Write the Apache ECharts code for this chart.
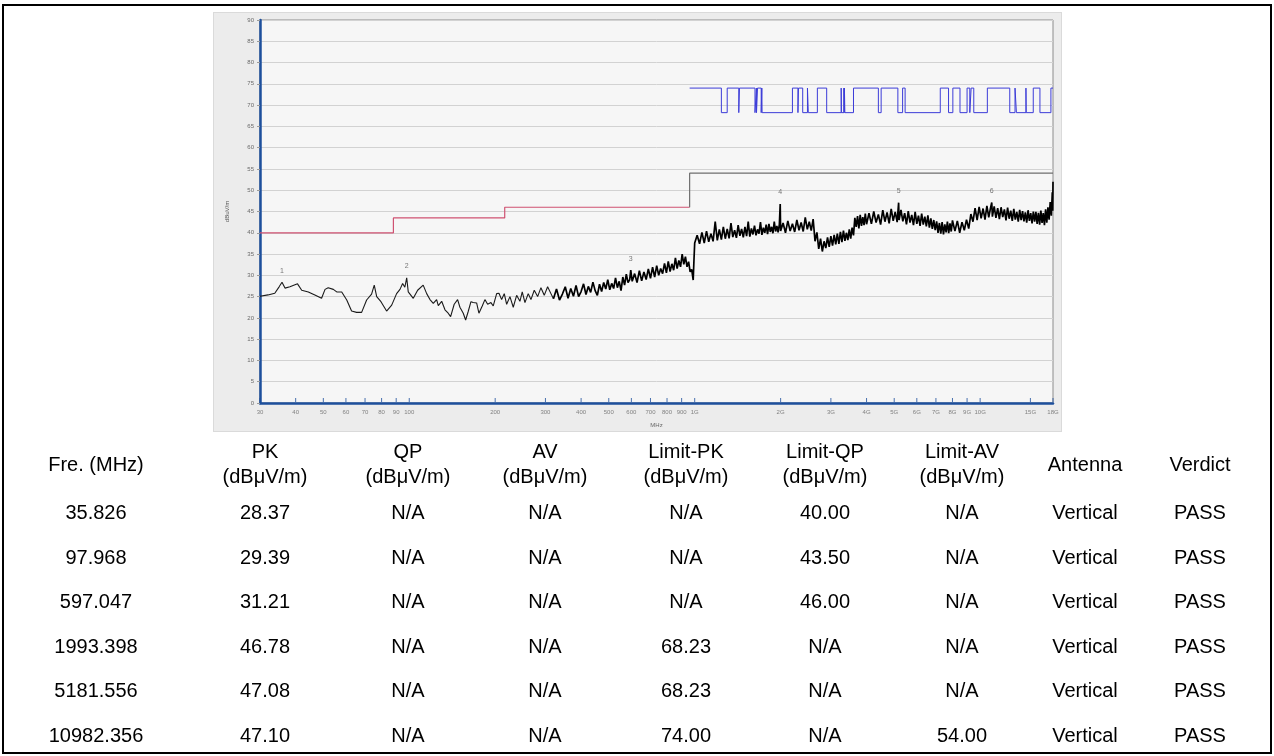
<!DOCTYPE html>
<html><head><meta charset="utf-8">
<script src="https://cdn.jsdelivr.net/npm/echarts@6/dist/echarts.min.js"></script>
<style>
html,body{margin:0;padding:0;background:#fff;}
#page{position:relative;width:1274px;height:756px;overflow:hidden;font-family:"Liberation Sans",Arial,sans-serif;}
#frame{position:absolute;left:2px;top:4px;width:1270px;height:750px;box-sizing:border-box;border:2px solid #000;}
#panel{position:absolute;left:213px;top:12px;width:849px;height:420px;background:#ececec;border:1px solid #dadada;box-sizing:border-box;}
#c{position:absolute;left:0;top:0;width:1274px;height:756px;}
.cell{position:absolute;transform:translate(-50%,-50%);font-size:20px;color:#000;white-space:nowrap;text-align:center;line-height:25px;}
</style>
</head><body>
<div id="page"><div id="frame"></div><div id="panel"></div><div id="c"></div></div>
<script>
// ---------- measured trace (MHz, dBuV/m) ----------
const trace30to320 = [[30,25.1],[32,25.4],[33.8,25.8],[35,27.3],[35.826,28.37],[36.7,27.0],[38.2,27.3],[40.6,28.0],[42,26.5],[44.3,26.1],[46.7,25.4],[49.3,24.6],[50.7,26.7],[52,27.1],[54.2,26.7],[55.7,26.1],[58,26.1],[60.4,24.2],[62.8,21.6],[65.4,21.3],[68.1,21.3],[70.9,24.2],[73.8,25.6],[75.4,27.7],[76.9,25.0],[79.6,23.8],[83.3,21.6],[86.8,23.0],[90.3,25.7],[92.8,26.7],[94.8,28.1],[96.5,27.2],[97.968,29.39],[99.2,26.1],[103.3,24.6],[107,26.5],[111.9,27.7],[115.1,25.7],[118.2,24.3],[121.4,23.4],[124.7,24.3],[126.4,22.9],[129.9,23.9],[133.4,21.9],[136.9,21.1],[139.6,20.3],[143.7,23.2],[147.7,24.3],[150.5,22.5],[154.6,21.1],[157.6,19.5],[160.9,21.5],[164.5,23.8],[167.5,23.6],[172.2,23.5],[175.4,21.1],[180.2,22.8],[184.1,24.3],[188.2,23.2],[193.3,23.6],[196.9,22.8],[202.4,25.7],[206.2,25.8],[210.7,24.3],[215.2,25.7],[219.4,23.2],[225.3,25.0],[231.4,22.5],[237.8,25.3],[244.2,23.9],[248.8,26.1],[254.3,23.6],[261.1,25.7],[266.9,24.3],[274.1,26.5],[281.7,25.0],[289.3,27.1],[297.1,25.3],[305.3,27.3],[313.6,25.7],[320,24.5]];
const trace320to1G = [[320,24.5],[328,26.8],[336,24.2],[344,25.6],[352,27.3],[360,24.6],[368,26.9],[376,25.1],[384,27.6],[392,25.0],[400,26.2],[408,28.0],[416,25.5],[424,27.4],[432,26.0],[440,28.4],[448,26.4],[456,25.3],[464,27.9],[472,26.2],[480,28.3],[488,26.8],[496,29.0],[504,26.6],[512,28.1],[520,26.9],[528,29.4],[536,27.1],[544,28.6],[552,26.4],[560,29.6],[568,27.7],[576,30.3],[584,28.3],[592,29.0],[597.047,31.21],[604,28.6],[616,30.4],[628,28.3],[640,31.1],[652,28.7],[664,30.8],[676,29.0],[688,31.5],[700,29.3],[712,31.9],[724,29.6],[736,32.3],[748,30.0],[760,31.6],[772,30.4],[784,32.8],[796,30.6],[808,33.3],[820,30.9],[832,32.7],[844,31.2],[856,34.1],[868,31.6],[880,33.5],[892,32.0],[904,35.0],[916,32.6],[928,34.4],[940,32.0],[952,33.2],[964,30.8],[976,31.4],[988,28.9],[994,33.5]];
const trace1Gto4G = [[1000,37.6],[1020,39.4],[1040,37.4],[1060,40.1],[1080,37.6],[1100,40.4],[1120,37.9],[1140,39.8],[1160,38.0],[1180,42.6],[1200,38.2],[1220,40.8],[1240,38.4],[1260,41.4],[1280,38.6],[1300,40.9],[1320,38.7],[1340,42.3],[1360,39.0],[1380,40.6],[1400,38.8],[1420,41.8],[1440,39.3],[1460,40.9],[1480,38.9],[1500,41.4],[1520,39.2],[1540,42.6],[1560,39.1],[1580,41.0],[1600,39.6],[1620,41.7],[1640,39.4],[1660,40.8],[1680,39.8],[1700,42.5],[1720,39.5],[1740,41.2],[1760,40.0],[1780,41.9],[1800,39.7],[1820,42.1],[1840,40.2],[1860,41.4],[1880,39.9],[1900,42.6],[1920,40.3],[1940,41.6],[1960,40.1],[1980,42.0],[1993.398,46.78],[2000,40.4],[2040,42.3],[2080,40.0],[2120,42.8],[2160,40.4],[2200,42.1],[2240,40.2],[2280,43.0],[2320,40.6],[2360,42.4],[2400,40.3],[2440,43.6],[2480,40.8],[2520,42.6],[2560,40.5],[2600,43.2],[2640,38.0],[2680,40.1],[2720,36.2],[2760,38.6],[2800,35.6],[2840,38.0],[2880,36.4],[2920,38.9],[2960,36.7],[3000,39.2],[3040,37.0],[3080,39.5],[3120,37.3],[3160,39.8],[3200,37.4],[3240,40.2],[3280,37.8],[3320,40.5],[3360,38.1],[3400,40.0],[3440,38.3],[3480,40.8],[3520,38.6],[3560,41.2],[3600,39.4],[3640,43.5],[3680,41.4],[3720,43.9],[3760,41.0],[3800,44.2],[3840,41.6],[3880,43.7],[3920,41.8],[3960,44.5]];
const trace4Gto18G = [[4000,42.0],[4080,44.6],[4160,42.1],[4240,45.0],[4320,42.4],[4400,44.3],[4480,41.9],[4560,45.3],[4640,42.6],[4720,44.8],[4800,42.2],[4880,45.6],[4960,42.8],[5040,44.9],[5120,42.5],[5181.556,47.08],[5200,43.0],[5280,45.4],[5360,42.7],[5440,44.6],[5520,42.0],[5600,45.1],[5680,42.4],[5760,44.2],[5840,41.8],[5920,44.9],[6000,42.1],[6080,44.0],[6160,41.6],[6240,44.5],[6320,41.9],[6400,43.8],[6480,41.5],[6560,44.1],[6640,41.2],[6720,43.4],[6800,40.9],[6880,43.0],[6960,40.6],[7040,42.7],[7120,40.0],[7200,42.3],[7280,39.8],[7360,42.5],[7440,39.6],[7520,42.0],[7600,40.1],[7680,42.6],[7760,39.9],[7840,42.2],[7920,40.3],[8000,42.9],[8160,40.4],[8320,42.8],[8480,40.0],[8640,42.5],[8800,40.6],[8960,43.1],[9120,41.0],[9280,44.4],[9440,42.6],[9600,45.8],[9760,43.0],[9920,46.1],[10080,43.4],[10240,45.7],[10400,43.1],[10560,46.3],[10720,43.6],[10880,45.9],[10982.356,47.10],[11040,43.8],[11200,46.2],[11360,43.5],[11520,45.8],[11680,43.2],[11840,46.0],[12000,43.7],[12160,45.5],[12320,42.9],[12480,45.9],[12640,43.3],[12800,45.2],[12960,42.8],[13120,45.6],[13280,43.1],[13440,44.9],[13600,42.6],[13760,45.4],[13920,43.0],[14080,45.1],[14240,42.7],[14400,44.8],[14560,42.4],[14720,45.3],[14880,42.8],[15040,44.6],[15200,42.2],[15360,45.0],[15520,42.6],[15680,44.9],[15840,42.1],[16000,44.7],[16160,41.9],[16320,45.2],[16480,42.3],[16640,44.6],[16800,41.8],[16960,45.5],[17120,42.4],[17280,46.0],[17440,43.1],[17600,47.2],[17760,44.0],[17900,49.5],[17960,45.2],[18000,52.0]];

// ---------- limit lines ----------
const qpLimitFreq = [30, 88, 216, 960];
const qpLimitVal  = [40, 43.5, 46, 46];
const avLimitFreq = [960, 18000];
const avLimitVal  = [46, 54];
const pkLimitFreq = [960,1240,1300,1427,1435,1626.5,1645.5,1646.5,1660,1710,1718.8,1722.2,2200,2300,2310,2390,2483.5,2500,2690,2900,3260,3267,3332,3339,3345.8,3358,3600,4400,4500,5150,5350,5460,7250,7750,8025,8500,9000,9200,9300,9500,10600,12700,13250,13400,14470,14500,15350,16200,17700,18000];
const pkLimitVal  = [74,68.23,74,68.23,74,68.23,74,68.23,74,68.23,74,68.23,74,68.23,74,68.23,74,68.23,74,68.23,74,68.23,74,68.23,74,68.23,74,68.23,74,68.23,74,68.23,74,68.23,74,68.23,74,68.23,74,68.23,74,68.23,74,68.23,74,68.23,74,68.23,74,74];

// ---------- axis ticks ----------
const xTickValues = [30,40,50,60,70,80,90,100,200,300,400,500,600,700,800,900,1000,2000,3000,4000,5000,6000,7000,8000,9000,10000,15000,18000];
const xTickLabels = ['30','40','50','60','70','80','90','100','200','300','400','500','600','700','800','900','1G','2G','3G','4G','5G','6G','7G','8G','9G','10G','15G','18G'];

// ---------- result table ----------
const tableHeaders = [['Fre. (MHz)'],['PK','(dBμV/m)'],['QP','(dBμV/m)'],['AV','(dBμV/m)'],['Limit-PK','(dBμV/m)'],['Limit-QP','(dBμV/m)'],['Limit-AV','(dBμV/m)'],['Antenna'],['Verdict']];
const peakFreq = [35.826, 97.968, 597.047, 1993.398, 5181.556, 10982.356];
const peakPK   = [28.37, 29.39, 31.21, 46.78, 47.08, 47.10];
const peakQP   = [null, null, null, null, null, null];
const peakAV   = [null, null, null, null, null, null];
const limitPK  = [null, null, null, 68.23, 68.23, 74.00];
const limitQP  = [40.00, 43.50, 46.00, null, null, null];
const limitAV  = [null, null, null, null, null, 54.00];
const antenna  = ['Vertical','Vertical','Vertical','Vertical','Vertical','Vertical'];
const verdict  = ['PASS','PASS','PASS','PASS','PASS','PASS'];

// ---------- build table (HTML text) ----------
const colX = [96, 265, 408, 545, 686, 825, 962, 1085, 1200];
const page = document.getElementById('page');
function addCell(text, x, y){
  const d = document.createElement('div');
  d.className = 'cell';
  d.style.left = x + 'px'; d.style.top = y + 'px';
  d.innerHTML = text;
  page.appendChild(d);
}
tableHeaders.forEach((h, i) => addCell(h.join('<br>'), colX[i], 464));
const fmt2 = v => v == null ? 'N/A' : v.toFixed(2);
const rowY0 = 512, rowStep = 44.6;
peakFreq.forEach((f, r) => {
  const y = rowY0 + r * rowStep;
  const vals = [f.toFixed(3), fmt2(peakPK[r]), fmt2(peakQP[r]), fmt2(peakAV[r]), fmt2(limitPK[r]), fmt2(limitQP[r]), fmt2(limitAV[r]), antenna[r], verdict[r]];
  vals.forEach((v, i) => addCell(v, colX[i], y));
});

// ---------- chart ----------
const chart = echarts.init(document.getElementById('c'), null, {renderer: 'canvas'});
const zip = (a, b) => a.map((v, i) => [v, b[i]]);
const axisBlue = '#1d4f9c';
chart.setOption({
  animation: false,
  grid: {left: 260, top: 20, width: 793, height: 383, show: true, backgroundColor: '#f6f6f6', borderColor: '#8c8c8c', borderWidth: 1},
  xAxis: {
    type: 'log', logBase: 10, min: 30, max: 18000,
    name: 'MHz', nameLocation: 'middle', nameGap: 19,
    nameTextStyle: {fontSize: 6, color: '#666'},
    axisLine: {show: true, lineStyle: {color: axisBlue, width: 2.5}},
    axisTick: {show: false}, axisLabel: {show: false}, splitLine: {show: false}, minorTick: {show: false}
  },
  yAxis: {
    type: 'value', min: 0, max: 90, interval: 5,
    name: 'dBuV/m', nameLocation: 'middle', nameGap: 30, nameRotate: 90,
    nameTextStyle: {fontSize: 6, color: '#555'},
    axisLine: {show: true, lineStyle: {color: axisBlue, width: 2.5}},
    axisTick: {show: true, length: 3, lineStyle: {color: '#9a9a9a'}},
    axisLabel: {fontSize: 6, color: '#6a6a6a', margin: 6},
    splitLine: {lineStyle: {color: '#d2d2d2', width: 1}}
  },
  series: [
    {name: 'QP Limit', type: 'line', step: 'end', data: zip(qpLimitFreq, qpLimitVal), showSymbol: false, lineStyle: {color: '#cf5272', width: 1.2}, z: 3},
    {name: 'AV Limit', type: 'line', step: 'start', data: zip(avLimitFreq, avLimitVal), showSymbol: false, lineStyle: {color: '#6e6e6e', width: 1.2}, z: 3},
    {name: 'PK Limit', type: 'line', step: 'end', data: zip(pkLimitFreq, pkLimitVal), showSymbol: false, lineStyle: {color: '#3c3cd8', width: 1}, z: 3},
    {name: 'Trace low', type: 'line', data: trace30to320, showSymbol: false, lineStyle: {color: '#1a1a1a', width: 1.1}, z: 4},
    {name: 'Trace high', type: 'line', data: trace320to1G.concat(trace1Gto4G, trace4Gto18G), showSymbol: false, lineStyle: {color: '#000', width: 1.7}, z: 4},
    {name: 'Peaks', type: 'scatter', data: zip(peakFreq, peakPK), symbolSize: 2, itemStyle: {color: 'rgba(0,0,0,0)'},
      label: {show: true, position: 'top', distance: 7, fontSize: 7, color: '#555', formatter: p => String(p.dataIndex + 1)}, z: 5},
    {name: 'xTicks', type: 'scatter', clip: false, data: xTickValues.map(v => [v, 0]), symbol: 'rect', symbolSize: [1, 4], symbolOffset: [0, -3],
      itemStyle: {color: axisBlue}, silent: true,
      label: {show: true, position: 'bottom', distance: 7, fontSize: 6, color: '#666', formatter: p => xTickLabels[p.dataIndex]}, z: 6}
  ]
});
</script>
</body></html>
